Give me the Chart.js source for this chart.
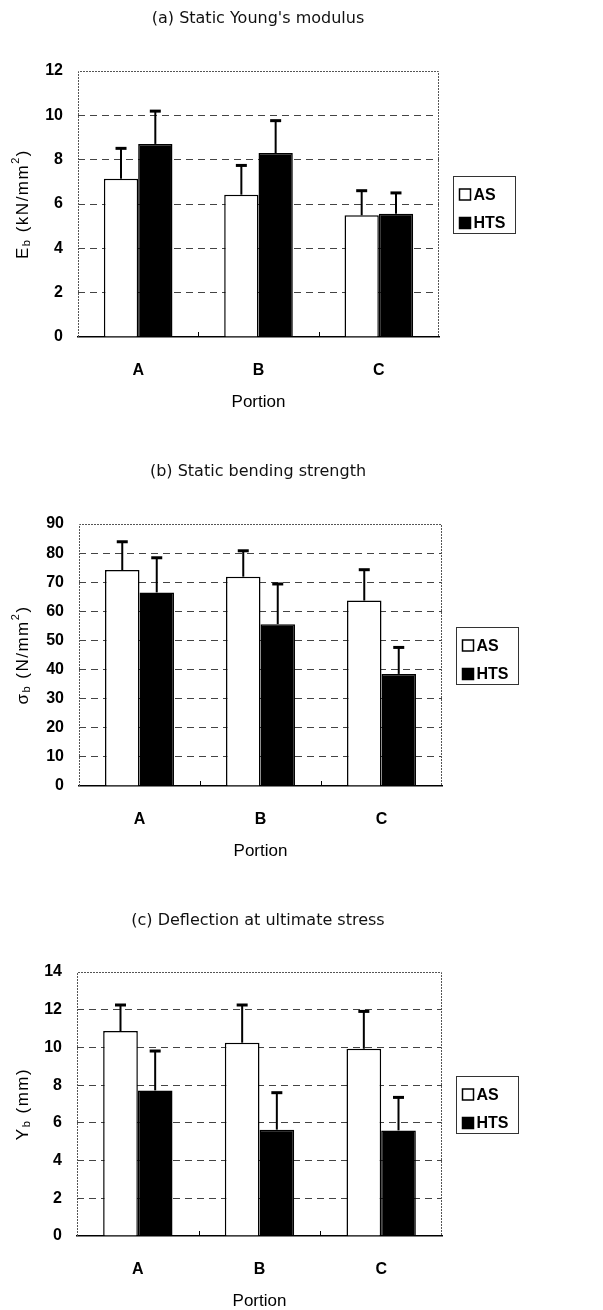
<!DOCTYPE html>
<html>
<head>
<meta charset="utf-8">
<script src="https://cdn.jsdelivr.net/npm/chart.js@4/dist/chart.umd.min.js"></script>
<style>
  html, body { margin: 0; padding: 0; background: #fff; }
  .panel { position: absolute; left: 0; width: 603px; }
</style>
</head>
<body>
<div class="panel" style="top:0;height:430px"><canvas id="chart-young"></canvas></div>
<div class="panel" style="top:430px;height:440px"><canvas id="chart-strength"></canvas></div>
<div class="panel" style="top:860px;height:450px"><canvas id="chart-deflection"></canvas></div>
<script>
// Categories and series
const portions = ['A', 'B', 'C'];
const seriesNames = ['AS', 'HTS'];

// (a) Static Young's modulus, kN/mm2 (mean and upper SD)
const youngAS = [7.14, 6.42, 5.49];
const youngASsd = [1.37, 1.32, 1.11];
const youngHTS = [8.71, 8.30, 5.56];
const youngHTSsd = [1.48, 1.46, 0.94];
const youngTicks = [0, 2, 4, 6, 8, 10, 12];

// (b) Static bending strength, N/mm2
const strengthAS = [74.2, 71.9, 63.7];
const strengthASsd = [9.7, 8.9, 10.6];
const strengthHTS = [66.5, 55.6, 38.5];
const strengthHTSsd = [11.9, 13.8, 9.1];
const strengthTicks = [0, 10, 20, 30, 40, 50, 60, 70, 80, 90];

// (c) Deflection at ultimate stress, mm
const deflectionAS = [10.87, 10.25, 9.93];
const deflectionASsd = [1.38, 2.0, 1.98];
const deflectionHTS = [7.72, 5.64, 5.60];
const deflectionHTSsd = [2.09, 1.96, 1.75];
const deflectionTicks = [0, 2, 4, 6, 8, 10, 12, 14];

const SANS = '"Liberation Sans", Arial, sans-serif';
const AXIS_H = 80; // height of the x-axis block (labels + "Portion")

// upward error bars (mean + sd) drawn on top of each bar
const errorBarPlugin = {
    id: 'errorBars',
    afterDatasetsDraw(chart) {
        const ctx = chart.ctx;
        const y = chart.scales.y;
        ctx.save();
        ctx.strokeStyle = '#000';
        chart.data.datasets.forEach((ds, i) => {
            const meta = chart.getDatasetMeta(i);
            meta.data.forEach((bar, j) => {
                const yTop = y.getPixelForValue(ds.data[j] + ds.errors[j]);
                ctx.lineWidth = 2;
                ctx.beginPath();
                ctx.moveTo(bar.x, bar.y);
                ctx.lineTo(bar.x, yTop);
                ctx.stroke();
                ctx.lineWidth = 3;
                ctx.beginPath();
                ctx.moveTo(bar.x - 5.5, yTop);
                ctx.lineTo(bar.x + 5.5, yTop);
                ctx.stroke();
            });
        });
        ctx.restore();
    }
};

// plot frame, inner category ticks, heading, boxed legend and the y axis title
const framePlugin = {
    id: 'frame',
    beforeDatasetsDraw(chart) {
        const {ctx, chartArea: a} = chart;
        const x = chart.scales.x;
        ctx.save();
        ctx.strokeStyle = '#555';
        ctx.lineWidth = 1;
        ctx.setLineDash([2, 1]);
        ctx.beginPath();
        ctx.moveTo(a.left + 0.5, a.bottom);
        ctx.lineTo(a.left + 0.5, a.top + 0.5);
        ctx.lineTo(a.right - 0.5, a.top + 0.5);
        ctx.lineTo(a.right - 0.5, a.bottom);
        ctx.stroke();
        ctx.setLineDash([]);
        ctx.strokeStyle = '#000';
        for (let i = 1; i < portions.length; i++) {
            const bx = Math.round((x.getPixelForTick(i - 1) + x.getPixelForTick(i)) / 2) + 0.5;
            ctx.beginPath();
            ctx.moveTo(bx, a.bottom);
            ctx.lineTo(bx, a.bottom - 5);
            ctx.stroke();
        }
        ctx.restore();
    },
    afterDraw(chart, args, opts) {
        const {ctx, chartArea: a} = chart;
        const midY = (a.top + a.bottom) / 2;

        // heading, centred over plot + legend
        ctx.save();
        ctx.font = '16px "DejaVu Sans", sans-serif';
        ctx.fillStyle = '#111';
        ctx.textAlign = 'center';
        ctx.textBaseline = 'middle';
        ctx.fillText(opts.title, 258, opts.titleY);
        ctx.restore();

        // legend
        const lx = Math.round(a.right + 14) + 0.5;
        const ly = Math.round(midY - 28.5) + 0.5;
        ctx.save();
        ctx.strokeStyle = '#333';
        ctx.lineWidth = 1;
        ctx.strokeRect(lx, ly, 62, 57);
        ctx.font = 'bold 16px ' + SANS;
        ctx.textBaseline = 'middle';
        chart.data.datasets.forEach((ds, i) => {
            const ry = ly + 18 + i * 28.5;
            ctx.fillStyle = ds.backgroundColor;
            ctx.fillRect(lx + 6, ry - 5.5, 11, 11);
            ctx.lineWidth = 1.5;
            ctx.strokeStyle = '#000';
            ctx.strokeRect(lx + 6, ry - 5.5, 11, 11);
            ctx.fillStyle = '#000';
            ctx.fillText(ds.label, lx + 20, ry + 1);
        });
        ctx.restore();

        // y axis title with sub/superscripts
        const parts = opts.yTitle;
        ctx.save();
        ctx.translate(opts.yTitleX, midY);
        ctx.rotate(-Math.PI / 2);
        ctx.textBaseline = 'middle';
        ctx.fillStyle = '#000';
        ctx.letterSpacing = '1.5px';
        let total = 0;
        parts.forEach(p => {
            ctx.font = p.size + 'px ' + SANS;
            p.w = ctx.measureText(p.t).width;
            total += p.w;
        });
        let cx = -total / 2;
        parts.forEach(p => {
            ctx.font = p.size + 'px ' + SANS;
            ctx.fillText(p.t, cx, p.dy || 0);
            cx += p.w;
        });
        ctx.restore();
    }
};

function makeChart(id, cfg) {
    const maxTick = cfg.ticks[cfg.ticks.length - 1];
    const L = cfg.layout;
    return new Chart(document.getElementById(id), {
        type: 'bar',
        data: {
            labels: portions,
            datasets: [
                {
                    label: seriesNames[0],
                    data: cfg.as,
                    errors: cfg.asSd,
                    backgroundColor: '#fff',
                    borderColor: '#000',
                    borderWidth: 1.5
                },
                {
                    label: seriesNames[1],
                    data: cfg.hts,
                    errors: cfg.htsSd,
                    backgroundColor: '#000',
                    borderColor: '#000',
                    borderWidth: 1.5
                }
            ]
        },
        options: {
            responsive: true,
            maintainAspectRatio: false,
            animation: false,
            categoryPercentage: 0.57,
            barPercentage: 1.0,
            layout: {
                padding: { left: 0, top: L.top, right: 603 - L.right, bottom: L.height - L.bottom - AXIS_H }
            },
            plugins: {
                legend: { display: false },
                tooltip: { enabled: false },
                title: { display: false },
                frame: { title: cfg.title, titleY: L.titleY, yTitle: cfg.yTitle, yTitleX: 23 }
            },
            scales: {
                x: {
                    grid: { display: false },
                    border: { display: true, color: '#000', width: 1.5 },
                    ticks: {
                        color: '#000',
                        padding: 16,
                        font: { family: SANS, size: 16, weight: 'bold' }
                    },
                    title: {
                        display: true,
                        text: 'Portion',
                        color: '#000',
                        font: { family: SANS, size: 17 },
                        padding: { top: 0, bottom: 4 }
                    },
                    afterFit: s => { s.height = AXIS_H; }
                },
                y: {
                    min: 0,
                    max: maxTick,
                    afterBuildTicks: s => { s.ticks = cfg.ticks.map(v => ({ value: v })); },
                    grid: {
                        drawTicks: false,
                        color: c => (c.tick.value === 0 || c.tick.value === maxTick) ? 'rgba(0,0,0,0)' : '#444',
                        lineWidth: 1
                    },
                    border: { display: false, dash: [7, 5] },
                    ticks: {
                        color: '#000',
                        padding: 15,
                        font: { family: SANS, size: 16, weight: 'bold' }
                    },
                    afterFit: s => { s.width = L.left; }
                }
            }
        },
        plugins: [framePlugin, errorBarPlugin]
    });
}

makeChart('chart-young', {
    title: "(a) Static Young's modulus",
    as: youngAS, asSd: youngASsd, hts: youngHTS, htsSd: youngHTSsd,
    ticks: youngTicks,
    yTitle: [
        { t: 'E', size: 17 },
        { t: 'b', size: 11, dy: 4 },
        { t: ' (kN/mm', size: 17 },
        { t: '2', size: 11, dy: -7 },
        { t: ')', size: 17 }
    ],
    layout: { height: 430, titleY: 19, top: 71, bottom: 337, left: 78, right: 439 }
});

makeChart('chart-strength', {
    title: '(b) Static bending strength',
    as: strengthAS, asSd: strengthASsd, hts: strengthHTS, htsSd: strengthHTSsd,
    ticks: strengthTicks,
    yTitle: [
        { t: 'σ', size: 17 },
        { t: 'b', size: 11, dy: 4 },
        { t: ' (N/mm', size: 17 },
        { t: '2', size: 11, dy: -7 },
        { t: ')', size: 17 }
    ],
    layout: { height: 440, titleY: 42, top: 94, bottom: 356, left: 79, right: 442 }
});

makeChart('chart-deflection', {
    title: '(c) Deflection at ultimate stress',
    as: deflectionAS, asSd: deflectionASsd, hts: deflectionHTS, htsSd: deflectionHTSsd,
    ticks: deflectionTicks,
    yTitle: [
        { t: 'Y', size: 17 },
        { t: 'b', size: 11, dy: 4 },
        { t: ' (mm)', size: 17 }
    ],
    layout: { height: 450, titleY: 61, top: 112, bottom: 376, left: 77, right: 442 }
});
</script>
</body>
</html>
